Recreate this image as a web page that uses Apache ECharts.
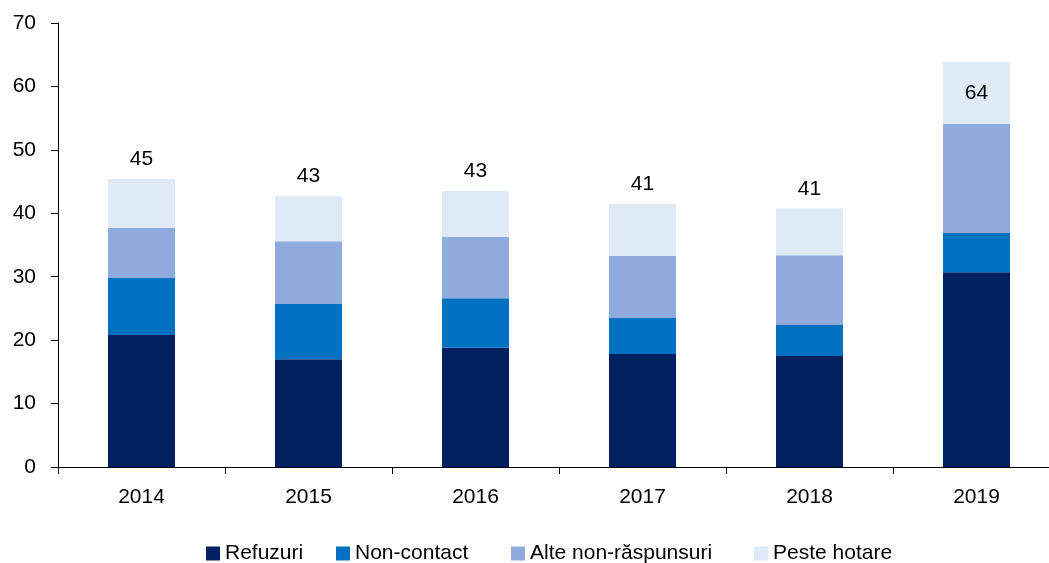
<!DOCTYPE html>
<html>
<head>
<meta charset="utf-8">
<script src="https://cdn.jsdelivr.net/npm/echarts@6/dist/echarts.min.js"></script>
<style>
  html, body { margin: 0; padding: 0; background: #fff; }
  #chart { width: 1049px; height: 563px; }
</style>
</head>
<body>
<div id="chart"></div>
<script>
// date
var ani = ['2014', '2015', '2016', '2017', '2018', '2019'];
var refuzuri = [20.8, 17.0, 18.8, 17.8, 17.5, 30.7];
var nonContact = [9.0, 8.7, 7.8, 5.7, 4.9, 6.2];
var alteNonRaspunsuri = [7.9, 9.9, 9.7, 9.8, 11.0, 17.2];
var pesteHotare = [7.7, 7.1, 7.2, 8.2, 7.4, 9.8];
var totaluri = [45, 43, 43, 41, 41, 64];
var numeSerii = ['Refuzuri', 'Non-contact', 'Alte non-răspunsuri', 'Peste hotare'];

var chartDom = document.getElementById('chart');
var myChart = echarts.init(chartDom);

var font = 'Liberation Sans';

// eticheta totalului: deasupra barei, in interior pentru 2019
var dateSus = pesteHotare.map(function (v, i) {
  var item = { value: v };
  if (i === 5) {
    item.label = { position: 'inside' };
  }
  return item;
});

// cate o legenda pentru fiecare serie, ca sa pot pune pozitia exacta
var legendLeft = [201, 331, 506, 749];
var legende = numeSerii.map(function (nume, i) {
  return {
    left: legendLeft[i],
    top: 538,
    itemWidth: 14,
    itemHeight: 14,
    icon: 'rect',
    textStyle: { fontSize: 21, color: '#000', fontFamily: font },
    data: [nume]
  };
});

var option = {
  animation: false,
  textStyle: { fontFamily: font },
  grid: { left: 58, top: 23, width: 1002, height: 444, outerBoundsMode: 'none' },
  legend: legende,
  xAxis: {
    type: 'category',
    data: ani,
    axisLine: { lineStyle: { color: '#000', width: 1 } },
    axisTick: { show: true, length: 7, lineStyle: { color: '#000' } },
    axisLabel: { fontSize: 21, color: '#000', margin: 20, fontFamily: font }
  },
  yAxis: {
    type: 'value',
    min: 0,
    max: 70,
    interval: 10,
    splitLine: { show: false },
    axisLine: { show: true, lineStyle: { color: '#000', width: 1 } },
    axisTick: { show: true, length: 7, lineStyle: { color: '#000' } },
    axisLabel: { fontSize: 21, color: '#000', margin: 22, fontFamily: font }
  },
  series: [
    {
      name: 'Refuzuri', type: 'bar', stack: 'total', barWidth: 67,
      itemStyle: { color: '#002060' }, data: refuzuri
    },
    {
      name: 'Non-contact', type: 'bar', stack: 'total',
      itemStyle: { color: '#0070C0' }, data: nonContact
    },
    {
      name: 'Alte non-răspunsuri', type: 'bar', stack: 'total',
      itemStyle: { color: '#8FAADC' }, data: alteNonRaspunsuri
    },
    {
      name: 'Peste hotare', type: 'bar', stack: 'total',
      itemStyle: { color: '#DEEBF7' },
      label: {
        show: true,
        position: 'top',
        distance: 9,
        fontSize: 21,
        color: '#000',
        fontFamily: font,
        formatter: function (p) { return totaluri[p.dataIndex]; }
      },
      data: dateSus
    }
  ]
};

option && myChart.setOption(option);
</script>
</body>
</html>
